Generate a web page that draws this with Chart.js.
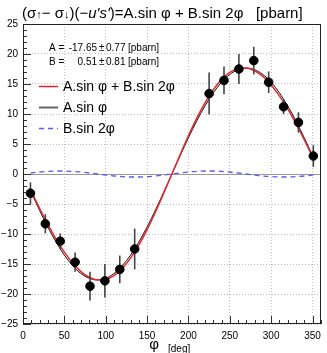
<!DOCTYPE html>
<html><head><meta charset="utf-8">
<script src="https://cdn.jsdelivr.net/npm/chart.js@4/dist/chart.umd.min.js"></script>
<style>html,body{margin:0;padding:0;background:#fff}#wrap{width:327px;height:353px;position:relative}</style>
</head><body><div id="wrap"><canvas id="c"></canvas></div>
<script>
// measured asymmetry points
const phiData  = [9,27,45,63,81,99,117,135,225,243,261,279,297,315,333,351];
const asymData = [-3.2,-8.3,-11.2,-14.7,-18.7,-17.8,-15.9,-12.5,13.4,15.6,17.5,18.9,15.3,11.2,8.6,3.0];
const asymErr  = [1.8,1.6,1.3,1.6,2.4,2.8,2.3,3.4,3.5,2.3,2.5,2.3,1.8,1.2,1.7,1.8];
// fitted curves
const curvePhi   = [9,20,30,40,50,60,70,80,90,100,110,120,130,140,150,160,170,180,190,200,210,220,230,240,250,260,270,280,290,300,310,320,330,340,351];
const curveTotal = [-2.60,-5.71,-8.39,-10.85,-13.02,-14.85,-16.26,-17.21,-17.65,-17.55,-16.92,-15.73,-14.02,-11.85,-9.27,-6.37,-3.23,0,3.23,6.37,9.27,11.85,14.02,15.73,16.92,17.55,17.65,17.21,16.26,14.85,13.02,10.85,8.39,5.71,2.60];
const curveSin   = [-2.76,-6.04,-8.83,-11.35,-13.52,-15.29,-16.59,-17.38,-17.65,-17.38,-16.59,-15.29,-13.52,-11.35,-8.83,-6.04,-3.06,0,3.06,6.04,8.83,11.35,13.52,15.29,16.59,17.38,17.65,17.38,16.59,15.29,13.52,11.35,8.83,6.04,2.76];
const curveSin2  = [0.16,0.33,0.44,0.50,0.50,0.44,0.33,0.17,0,-0.17,-0.33,-0.44,-0.50,-0.50,-0.44,-0.33,-0.17,0,0.17,0.33,0.44,0.50,0.50,0.44,0.33,0.17,0,-0.17,-0.33,-0.44,-0.50,-0.50,-0.44,-0.33,-0.16];
const xTicks = [0,50,100,150,200,250,300,350];
const yTicks = [-25,-20,-15,-10,-5,0,5,10,15,20,25];
const legendLabels = ["A.sin φ + B.sin 2φ","A.sin φ","B.sin 2φ"];
const fitA = ["A =","-17.65","0.77"];
const fitB = ["B =","0.51","0.81"];

const F = "'Liberation Sans', Arial, sans-serif";
const RED = '#e6262e', BLK = '#111', BLUE = '#5a5af0';

const pts = (xs, ys) => xs.map((x,i)=>({x, y:ys[i]}));

const deco = {
  id:'deco',
  beforeDatasetsDraw(chart){
    const {ctx, chartArea:a, scales:{x,y}} = chart;
    ctx.save();
    ctx.strokeStyle = '#999'; ctx.lineWidth = 1;
    const y0 = Math.round(y.getPixelForValue(0))+0.5;
    ctx.beginPath(); ctx.moveTo(a.left,y0); ctx.lineTo(a.right,y0); ctx.stroke();
    ctx.restore();
  },
  beforeDatasetDraw(chart, args){
    if (args.index !== 0) return;
    const {ctx, scales:{x,y}} = chart;
    ctx.save();
    ctx.strokeStyle = '#444'; ctx.lineWidth = 1.6;
    phiData.forEach((p,i)=>{
      const px = x.getPixelForValue(p);
      ctx.beginPath();
      ctx.moveTo(px, y.getPixelForValue(asymData[i]+asymErr[i]));
      ctx.lineTo(px, y.getPixelForValue(asymData[i]-asymErr[i]));
      ctx.stroke();
    });
    ctx.restore();
  },
  afterDraw(chart){
    const {ctx, chartArea:a, scales:{x,y}} = chart;
    ctx.save();
    // ticks
    ctx.strokeStyle = '#333'; ctx.lineWidth = 1;
    for (let v=-25; v<=25; v++){
      const py = Math.round(y.getPixelForValue(v))+0.5;
      const len = v%5===0 ? 8 : 4;
      ctx.beginPath(); ctx.moveTo(a.left,py); ctx.lineTo(a.left+len,py); ctx.stroke();
    }
    for (let v=0; v<=360; v+=10){
      const px = Math.round(x.getPixelForValue(v))+0.5;
      const len = v%50===0 ? 8 : 4;
      ctx.beginPath(); ctx.moveTo(px,a.bottom); ctx.lineTo(px,a.bottom-len); ctx.stroke();
    }
    // frame
    ctx.strokeStyle = '#222';
    ctx.strokeRect(Math.round(a.left)+0.5, Math.round(a.top)+0.5, Math.round(a.right-a.left)-1, Math.round(a.bottom-a.top)-1);
    ctx.fillStyle = '#000';
    ctx.textBaseline = 'alphabetic';
    // title
    let tx = 22; const ty = 18;
    const seg = [["(σ","15px"],["↑","11px"],["− σ","15px"],["↓","11px"],[")(−","15px"],["u's'","italic 15px"],[")=A.sin φ + B.sin 2φ   [pbarn]","15px"]];
    seg.forEach(([t,f])=>{ ctx.font = f+' '+F; ctx.fillText(t,tx,ty); tx += ctx.measureText(t).width; });
    // fit text
    ctx.font = '10px '+F;
    [[fitA,51],[fitB,65]].forEach(([r,by])=>{
      ctx.textAlign='left'; ctx.fillText(r[0],49,by);
      ctx.textAlign='right'; ctx.fillText(r[1],97,by);
      ctx.textAlign='left'; ctx.fillText('±',99,by); ctx.fillText(r[2],106,by);
      ctx.fillText('[pbarn]',128,by);
    });
    // legend
    const ly = [86,107,128];
    ctx.font = '14px '+F; ctx.textAlign='left'; ctx.textBaseline='middle';
    const lcol = [RED,'#666',BLUE], lw=[1.5,2,1.3], ld=[[],[],[5,4]];
    ly.forEach((yy,i)=>{
      ctx.strokeStyle=lcol[i]; ctx.lineWidth=lw[i]; ctx.setLineDash(ld[i]);
      ctx.beginPath(); ctx.moveTo(39,yy+0.5); ctx.lineTo(58,yy+0.5); ctx.stroke();
      ctx.setLineDash([]);
      ctx.fillText(legendLabels[i],63,yy+1);
    });
    // x title
    ctx.textBaseline='alphabetic';
    ctx.font = '15px '+F; ctx.textAlign='center'; ctx.fillText('φ',154,349);
    ctx.font = '10px '+F; ctx.textAlign='left'; ctx.fillText('[deg]',168,352);
    ctx.restore();
  }
};

new Chart(document.getElementById('c'), {
  type:'scatter',
  data:{datasets:[
    {data:pts(phiData,asymData), backgroundColor:'#000', borderColor:'#000', pointRadius:4.3, pointHoverRadius:4.3, showLine:false},
    {type:'line', data:pts(curvePhi,curveTotal), borderColor:RED, borderWidth:1.5, pointRadius:0, cubicInterpolationMode:'monotone', fill:false},
    {type:'line', data:pts(curvePhi,curveSin), borderColor:BLK, borderWidth:1, pointRadius:0, cubicInterpolationMode:'monotone', fill:false},
    {type:'line', data:pts(curvePhi,curveSin2), borderColor:BLUE, borderWidth:1.3, borderDash:[5,4], pointRadius:0, cubicInterpolationMode:'monotone', fill:false}
  ]},
  options:{
    responsive:true, maintainAspectRatio:false, animation:false, devicePixelRatio:1,
    layout:{padding:{top:24,right:2,left:0,bottom:0}},
    plugins:{legend:{display:false}, tooltip:{enabled:false}, title:{display:false}},
    events:[],
    scales:{
      x:{type:'linear', min:0, max:360,
        afterFit(s){ s.height = 29; },
        afterBuildTicks(s){ s.ticks = xTicks.map(v=>({value:v})); },
        ticks:{font:{size:10,family:F}, color:'#000', padding:6, maxRotation:0, autoSkip:false},
        grid:{color:'#bdbdbd', lineWidth:1, drawTicks:false},
        border:{display:false, dash:[1,2]}},
      y:{type:'linear', min:-25, max:25,
        afterFit(s){ s.width = 23; },
        afterBuildTicks(s){ s.ticks = yTicks.map(v=>({value:v})); },
        ticks:{font:{size:10,family:F}, color:'#000', padding:5, autoSkip:false, callback:v=> v<0 ? '−'+Math.abs(v) : ''+v},
        grid:{color:'#bdbdbd', lineWidth:1, drawTicks:false},
        border:{display:false, dash:[1,2]}}
    }
  },
  plugins:[deco]
});
</script></body></html>
